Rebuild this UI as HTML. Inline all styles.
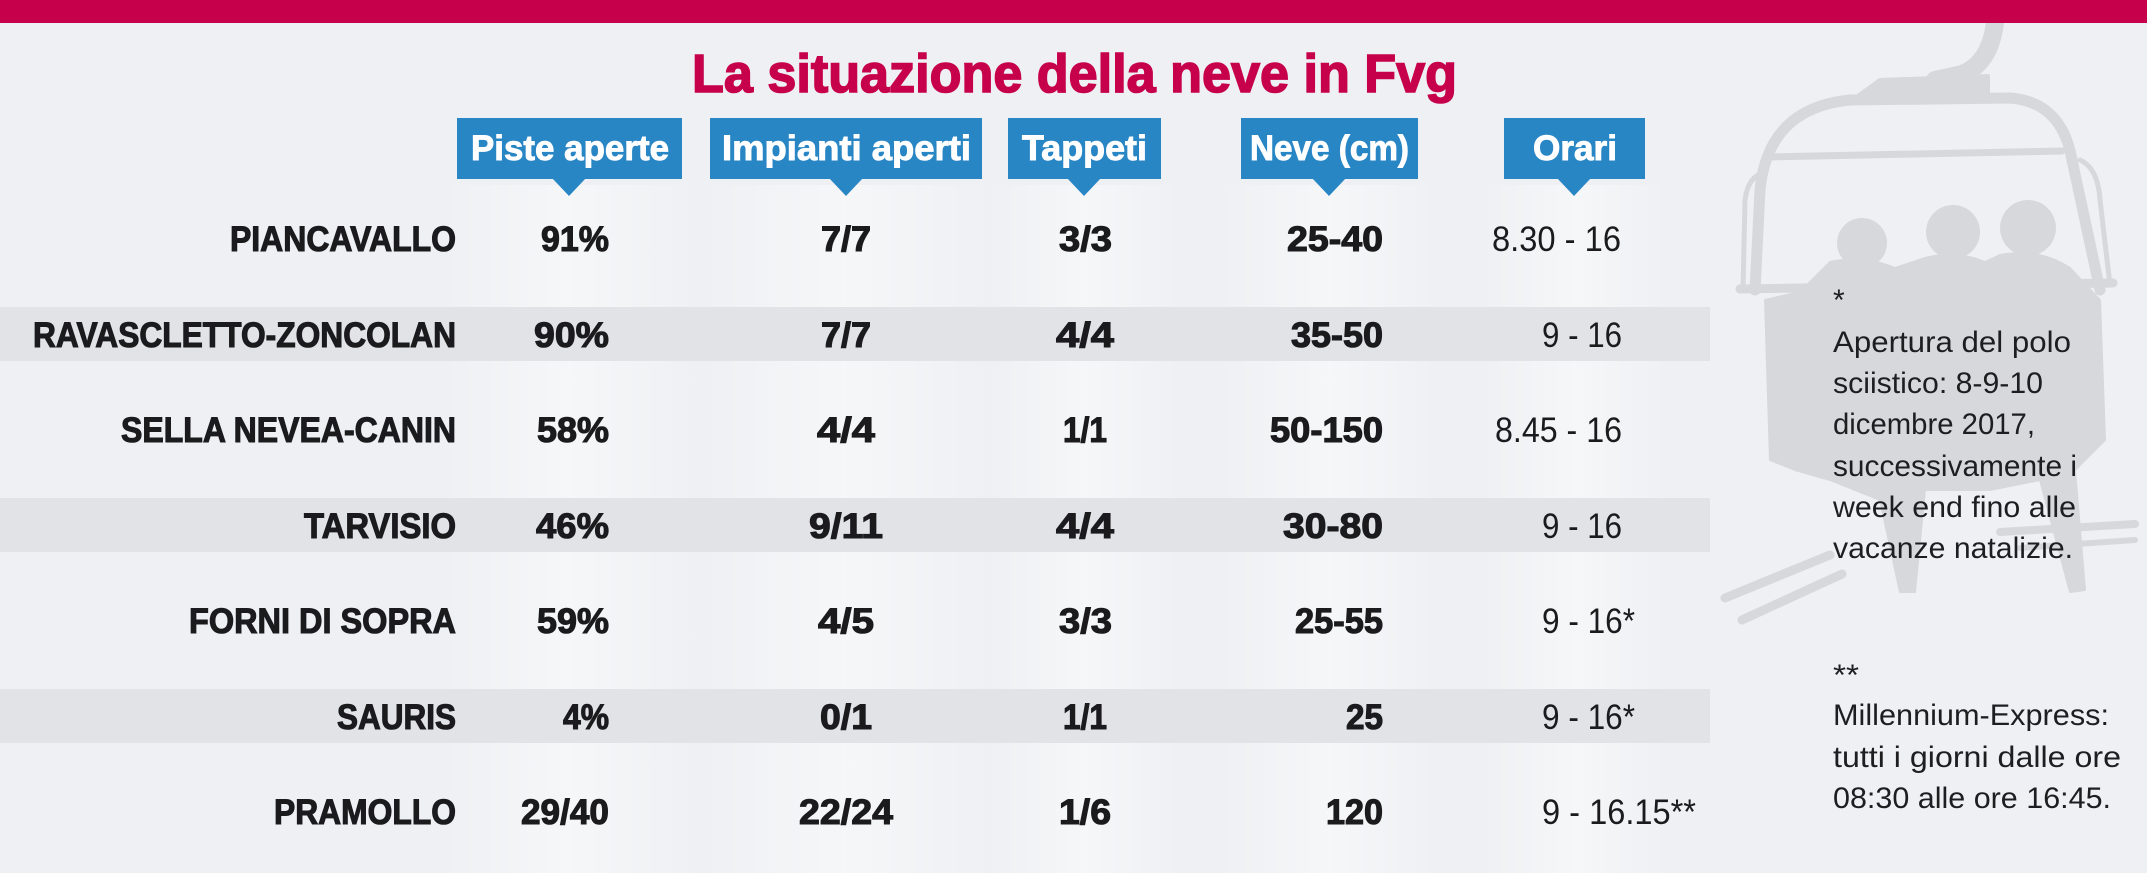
<!DOCTYPE html>
<html><head><meta charset="utf-8"><style>
html,body{margin:0;padding:0;background:#eef0f3;}
svg{display:block;}
.b{font-family:"Liberation Sans Narrow","Liberation Sans",sans-serif;font-weight:bold;font-size:35px;fill:#1b1b1d;stroke:#1b1b1d;stroke-width:1.1px;}
.r{font-family:"Liberation Sans Narrow","Liberation Sans",sans-serif;font-weight:normal;font-size:35px;fill:#1b1b1d;}
.h{font-family:"Liberation Sans Narrow","Liberation Sans",sans-serif;font-weight:bold;font-size:35px;fill:#ffffff;stroke:#ffffff;stroke-width:0.9px;}
.f{font-family:"Liberation Sans",sans-serif;font-size:30px;fill:#1e1e20;}
</style></head><body>
<svg width="2147" height="873" viewBox="0 0 2147 873" xmlns="http://www.w3.org/2000/svg">
<defs>
<linearGradient id="col" x1="0" x2="1" y1="0" y2="0">
<stop offset="0" stop-color="#ffffff" stop-opacity="0"/>
<stop offset="0.5" stop-color="#ffffff" stop-opacity="0.45"/>
<stop offset="1" stop-color="#ffffff" stop-opacity="0"/>
</linearGradient>
</defs>
<rect x="0" y="0" width="2147" height="873" fill="#eef0f3"/>

<!-- subtle column glows -->
<rect x="440" y="185" width="260" height="688" fill="url(#col)"/>
<rect x="700" y="185" width="290" height="688" fill="url(#col)"/>
<rect x="990" y="185" width="190" height="688" fill="url(#col)"/>
<rect x="1220" y="185" width="220" height="688" fill="url(#col)"/>
<rect x="1480" y="185" width="190" height="688" fill="url(#col)"/>

<!-- chairlift silhouette -->
<g fill="#d6d8db" stroke="#d6d8db" stroke-linecap="round" stroke-linejoin="round">
<path d="M1996 10 Q1994 62 1962 74 L1935 80" fill="none" stroke-width="18"/>
<path d="M1855 98 L1880 80 L1988 76 L1988 100 Z" stroke-width="4"/>
<path d="M1755 290 L1760 190 Q1768 108 1850 100 L2010 98 Q2062 102 2072 160 L2100 290" fill="none" stroke-width="11"/>
<path d="M1743 290 L1745 200 Q1748 176 1765 172" fill="none" stroke-width="5"/>
<path d="M2080 160 Q2098 168 2100 200 L2110 285" fill="none" stroke-width="5"/>
<path d="M1768 157 L2062 151" fill="none" stroke-width="7"/>
<path d="M1740 289 L2113 283" fill="none" stroke-width="9"/>
<circle cx="1862" cy="243" r="25" stroke="none"/>
<circle cx="1953" cy="232" r="27" stroke="none"/>
<circle cx="2028" cy="228" r="28" stroke="none"/>
<path d="M1830 262 Q1862 255 1895 268 L1925 258 Q1955 250 1985 262 L2000 255 Q2040 248 2070 268 L2100 300 L2105 440 L2075 470 L2085 590 L2070 592 L2040 480 L1990 490 L1925 490 L1915 592 L1900 592 L1880 500 L1830 480 L1795 470 L1770 460 L1765 300 L1800 292 Z" stroke-width="2"/>
<path d="M1725 598 L1830 555" fill="none" stroke-width="9"/>
<path d="M1742 620 L1842 574" fill="none" stroke-width="9"/>
<path d="M2000 532 L2135 524" fill="none" stroke-width="8"/>
<path d="M2020 548 L2135 540" fill="none" stroke-width="6"/>
</g>

<rect x="0" y="0" width="2147" height="23" fill="#c6004a"/>

<!-- bands -->
<rect x="0" y="307" width="1710" height="54" fill="#e1e3e6"/>
<rect x="0" y="498" width="1710" height="54" fill="#e1e3e6"/>
<rect x="0" y="689" width="1710" height="54" fill="#e1e3e6"/>

<!-- title -->
<text x="692" y="92" textLength="765" lengthAdjust="spacingAndGlyphs" style="font-family:'Liberation Sans Narrow','Liberation Sans',sans-serif;font-weight:bold;font-size:54px;fill:#c6004a;stroke:#c6004a;stroke-width:1.6px;">La situazione della neve in Fvg</text>

<!-- header boxes -->
<g fill="#2886c5">
<rect x="457" y="118" width="225" height="61"/><polygon points="552,178 586,178 569,196"/>
<rect x="710" y="118" width="272" height="61"/><polygon points="829,178 863,178 846,196"/>
<rect x="1008" y="118" width="153" height="61"/><polygon points="1067,178 1101,178 1084,196"/>
<rect x="1241" y="118" width="177" height="61"/><polygon points="1312,178 1346,178 1329,196"/>
<rect x="1504" y="118" width="141" height="61"/><polygon points="1557,178 1591,178 1574,196"/>
</g>
<text class="h" x="471" y="160" textLength="198" lengthAdjust="spacingAndGlyphs">Piste aperte</text>
<text class="h" x="722" y="160" textLength="249" lengthAdjust="spacingAndGlyphs">Impianti aperti</text>
<text class="h" x="1022" y="160" textLength="125" lengthAdjust="spacingAndGlyphs">Tappeti</text>
<text class="h" x="1250" y="160" textLength="159" lengthAdjust="spacingAndGlyphs">Neve (cm)</text>
<text class="h" x="1533" y="160" textLength="84" lengthAdjust="spacingAndGlyphs">Orari</text>

<!-- labels -->
<text class="b" x="230" y="251" textLength="226" lengthAdjust="spacingAndGlyphs">PIANCAVALLO</text>
<text class="b" x="33" y="347" textLength="423" lengthAdjust="spacingAndGlyphs">RAVASCLETTO-ZONCOLAN</text>
<text class="b" x="121" y="442" textLength="335" lengthAdjust="spacingAndGlyphs">SELLA NEVEA-CANIN</text>
<text class="b" x="304" y="538" textLength="152" lengthAdjust="spacingAndGlyphs">TARVISIO</text>
<text class="b" x="189" y="633" textLength="267" lengthAdjust="spacingAndGlyphs">FORNI DI SOPRA</text>
<text class="b" x="337" y="729" textLength="119" lengthAdjust="spacingAndGlyphs">SAURIS</text>
<text class="b" x="274" y="824" textLength="182" lengthAdjust="spacingAndGlyphs">PRAMOLLO</text>

<!-- piste -->
<text class="b" x="541" y="251" textLength="68" lengthAdjust="spacingAndGlyphs">91%</text>
<text class="b" x="534" y="347" textLength="75" lengthAdjust="spacingAndGlyphs">90%</text>
<text class="b" x="537" y="442" textLength="72" lengthAdjust="spacingAndGlyphs">58%</text>
<text class="b" x="536" y="538" textLength="73" lengthAdjust="spacingAndGlyphs">46%</text>
<text class="b" x="537" y="633" textLength="72" lengthAdjust="spacingAndGlyphs">59%</text>
<text class="b" x="563" y="729" textLength="46" lengthAdjust="spacingAndGlyphs">4%</text>
<text class="b" x="521" y="824" textLength="88" lengthAdjust="spacingAndGlyphs">29/40</text>

<!-- impianti -->
<text class="b" x="821" y="251" textLength="50" lengthAdjust="spacingAndGlyphs">7/7</text>
<text class="b" x="821" y="347" textLength="50" lengthAdjust="spacingAndGlyphs">7/7</text>
<text class="b" x="817" y="442" textLength="58" lengthAdjust="spacingAndGlyphs">4/4</text>
<text class="b" x="809" y="538" textLength="74" lengthAdjust="spacingAndGlyphs">9/11</text>
<text class="b" x="818" y="633" textLength="56" lengthAdjust="spacingAndGlyphs">4/5</text>
<text class="b" x="820" y="729" textLength="52" lengthAdjust="spacingAndGlyphs">0/1</text>
<text class="b" x="799" y="824" textLength="94" lengthAdjust="spacingAndGlyphs">22/24</text>

<!-- tappeti -->
<text class="b" x="1059" y="251" textLength="53" lengthAdjust="spacingAndGlyphs">3/3</text>
<text class="b" x="1056" y="347" textLength="58" lengthAdjust="spacingAndGlyphs">4/4</text>
<text class="b" x="1063" y="442" textLength="44" lengthAdjust="spacingAndGlyphs">1/1</text>
<text class="b" x="1056" y="538" textLength="58" lengthAdjust="spacingAndGlyphs">4/4</text>
<text class="b" x="1059" y="633" textLength="53" lengthAdjust="spacingAndGlyphs">3/3</text>
<text class="b" x="1063" y="729" textLength="44" lengthAdjust="spacingAndGlyphs">1/1</text>
<text class="b" x="1059" y="824" textLength="52" lengthAdjust="spacingAndGlyphs">1/6</text>

<!-- neve -->
<text class="b" x="1287" y="251" textLength="96" lengthAdjust="spacingAndGlyphs">25-40</text>
<text class="b" x="1291" y="347" textLength="92" lengthAdjust="spacingAndGlyphs">35-50</text>
<text class="b" x="1270" y="442" textLength="113" lengthAdjust="spacingAndGlyphs">50-150</text>
<text class="b" x="1283" y="538" textLength="100" lengthAdjust="spacingAndGlyphs">30-80</text>
<text class="b" x="1295" y="633" textLength="88" lengthAdjust="spacingAndGlyphs">25-55</text>
<text class="b" x="1346" y="729" textLength="37" lengthAdjust="spacingAndGlyphs">25</text>
<text class="b" x="1326" y="824" textLength="57" lengthAdjust="spacingAndGlyphs">120</text>

<!-- orari -->
<text class="r" x="1492" y="251" textLength="129" lengthAdjust="spacingAndGlyphs">8.30 - 16</text>
<text class="r" x="1542" y="347" textLength="80" lengthAdjust="spacingAndGlyphs">9 - 16</text>
<text class="r" x="1495" y="442" textLength="127" lengthAdjust="spacingAndGlyphs">8.45 - 16</text>
<text class="r" x="1542" y="538" textLength="80" lengthAdjust="spacingAndGlyphs">9 - 16</text>
<text class="r" x="1542" y="633" textLength="93" lengthAdjust="spacingAndGlyphs">9 - 16*</text>
<text class="r" x="1542" y="729" textLength="93" lengthAdjust="spacingAndGlyphs">9 - 16*</text>
<text class="r" x="1542" y="824" textLength="154" lengthAdjust="spacingAndGlyphs">9 - 16.15**</text>

<!-- footnotes -->
<text class="f" x="1833" y="310">*</text>
<text class="f" x="1833" y="352" textLength="238" lengthAdjust="spacingAndGlyphs">Apertura del polo</text>
<text class="f" x="1833" y="393" textLength="210" lengthAdjust="spacingAndGlyphs">sciistico: 8-9-10</text>
<text class="f" x="1833" y="434" textLength="202" lengthAdjust="spacingAndGlyphs">dicembre 2017,</text>
<text class="f" x="1833" y="476" textLength="244" lengthAdjust="spacingAndGlyphs">successivamente i</text>
<text class="f" x="1833" y="517" textLength="243" lengthAdjust="spacingAndGlyphs">week end fino alle</text>
<text class="f" x="1833" y="558" textLength="240" lengthAdjust="spacingAndGlyphs">vacanze natalizie.</text>
<text class="f" x="1833" y="685" textLength="26" lengthAdjust="spacingAndGlyphs">**</text>
<text class="f" x="1833" y="725" textLength="276" lengthAdjust="spacingAndGlyphs">Millennium-Express:</text>
<text class="f" x="1833" y="767" textLength="288" lengthAdjust="spacingAndGlyphs">tutti i giorni dalle ore</text>
<text class="f" x="1833" y="808" textLength="278" lengthAdjust="spacingAndGlyphs">08:30 alle ore 16:45.</text>
</svg>
</body></html>
